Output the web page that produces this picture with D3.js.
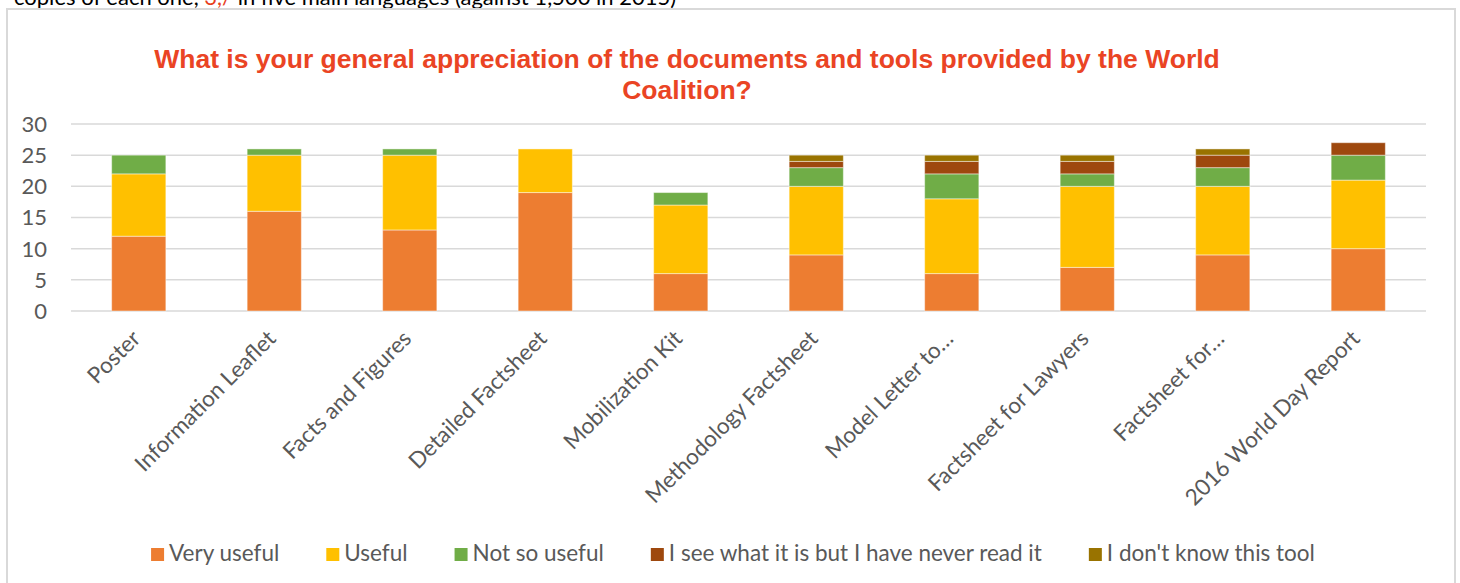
<!DOCTYPE html>
<html lang="en">
<head>
  <meta charset="UTF-8">
  <title>General appreciation of the documents and tools</title>
  <script src="https://d3js.org/d3.v7.min.js"></script>
  <style>
    body { margin: 0; background: #fff; }
    svg { display: block; }
  </style>
</head>
<body>
  <svg width="1460" height="583"></svg>
  <script>
    const categories = ["Poster", "Information Leaflet", "Facts and Figures", "Detailed Factsheet",
      "Mobilization Kit", "Methodology Factsheet", "Model Letter to…", "Factsheet for Lawyers",
      "Factsheet for…", "2016 World Day Report"];
    const seriesNames = ["Very useful", "Useful", "Not so useful",
      "I see what it is but I have never read it", "I don't know this tool"];
    const colors = ["#ED7D31", "#FFC000", "#70AD47", "#9E480E", "#997300"];

    const veryUseful  = [12, 16, 13, 19, 6, 9, 6, 7, 9, 10];
    const useful      = [10, 9, 12, 7, 11, 11, 12, 13, 11, 11];
    const notSoUseful = [3, 1, 1, 0, 2, 3, 4, 2, 3, 4];
    const neverRead   = [0, 0, 0, 0, 0, 1, 2, 2, 2, 2];
    const dontKnow    = [0, 0, 0, 0, 0, 1, 1, 1, 1, 0];
    const yTicks = [0, 5, 10, 15, 20, 25, 30];

    const table = categories.map((c, i) => ({
      cat: c,
      [seriesNames[0]]: veryUseful[i],
      [seriesNames[1]]: useful[i],
      [seriesNames[2]]: notSoUseful[i],
      [seriesNames[3]]: neverRead[i],
      [seriesNames[4]]: dontKnow[i]
    }));
    const stacked = d3.stack().keys(seriesNames)(table);

    const svg = d3.select("svg");
    const font = "Lato, 'Open Sans', sans-serif";

    // line of the page text, cut off above the chart frame
    const cutLine = svg.append("text")
        .attr("x", 14).attr("y", 5)
        .attr("font-family", font).attr("font-size", 22).attr("fill", "#000");
    cutLine.append("tspan").text("copies of each one, ");
    cutLine.append("tspan").attr("fill", "#E8401C").text("3,/");
    cutLine.append("tspan").text(" in five main languages (against 1,500 in 2015)");

    // chart frame
    svg.append("rect")
        .attr("x", 7).attr("y", 9).attr("width", 1448).attr("height", 590)
        .attr("fill", "#fff").attr("stroke", "#d9d9d9").attr("stroke-width", 2);

    // title
    const title = svg.append("text")
        .attr("text-anchor", "middle")
        .attr("font-family", "'Liberation Sans', Arial, sans-serif")
        .attr("font-weight", "bold").attr("font-size", 26.5)
        .attr("fill", "#EA4424");
    title.append("tspan").attr("x", 687).attr("y", 68)
        .text("What is your general appreciation of the documents and tools provided by the World");
    title.append("tspan").attr("x", 687).attr("y", 99).text("Coalition?");

    const x = d3.scaleBand().domain(categories).range([71, 1426]).paddingInner(0.6).paddingOuter(0.3);
    const y = d3.scaleLinear().domain([0, 30]).range([311, 124]);

    // gridlines
    svg.append("g")
      .selectAll("line")
      .data(yTicks)
      .join("line")
        .attr("x1", 71).attr("x2", 1426)
        .attr("y1", d => y(d)).attr("y2", d => y(d))
        .attr("stroke", "#d9d9d9").attr("stroke-width", 1.5);

    // y axis labels
    svg.append("g")
        .attr("font-family", font).attr("font-size", 22).attr("fill", "#595959")
        .attr("text-anchor", "end")
      .selectAll("text")
      .data(yTicks)
      .join("text")
        .attr("x", 47).attr("y", d => y(d)).attr("dy", "0.36em")
        .text(d => d);

    // stacked bars
    svg.append("g")
      .selectAll("g")
      .data(stacked)
      .join("g")
        .attr("fill", (d, i) => colors[i])
      .selectAll("rect")
      .data(d => d.filter(p => p[1] > p[0]))
      .join("rect")
        .attr("x", d => x(d.data.cat))
        .attr("width", x.bandwidth())
        .attr("y", d => y(d[1]))
        .attr("height", d => y(d[0]) - y(d[1]))
        .attr("stroke", "rgba(255,255,255,0.45)").attr("stroke-width", 1);

    // x axis labels, rotated
    svg.append("g")
        .attr("font-family", font).attr("font-size", 22.5).attr("fill", "#595959")
        .attr("text-anchor", "end")
      .selectAll("text")
      .data(categories)
      .join("text")
        .attr("transform", d => `translate(${x(d) + x.bandwidth() / 2 + 3},${340}) rotate(-45)`)
        .text(d => d);

    // legend
    const legend = svg.append("g")
        .attr("font-family", font).attr("font-size", 22.5).attr("fill", "#595959");
    const items = legend.selectAll("g")
      .data(seriesNames)
      .join("g");
    items.append("rect")
        .attr("width", 13).attr("height", 13).attr("y", -13)
        .attr("fill", (d, i) => colors[i]);
    items.append("text")
        .attr("x", 18).attr("y", 0)
        .text(d => d);
    const widths = [];
    items.each(function() { widths.push(18 + d3.select(this).select("text").node().getComputedTextLength()); });
    const gap = 47;
    const total = d3.sum(widths) + gap * (widths.length - 1);
    let cx = 733 - total / 2;
    items.attr("transform", (d, i) => {
      const t = `translate(${cx},561)`;
      cx += widths[i] + gap;
      return t;
    });
  </script>
</body>
</html>
